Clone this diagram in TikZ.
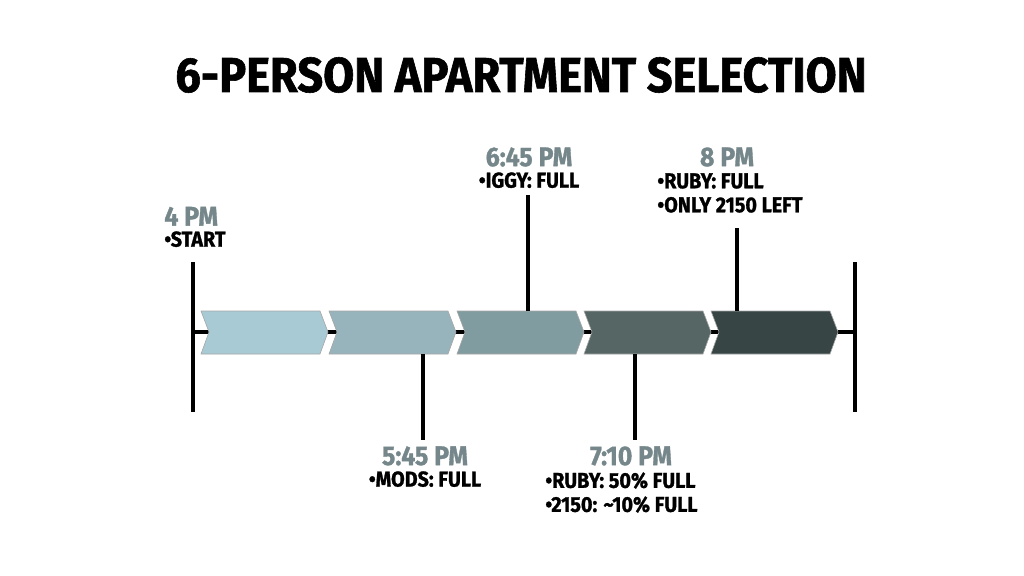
\documentclass[tikz,border=0pt]{standalone}
\usepackage{fontspec}
\setmainfont{Fira Sans}[UprightFont=* Bold, FakeStretch=0.92, FakeBold=1.2]
\usetikzlibrary{positioning}
\definecolor{tgrey}{HTML}{75878A}
\definecolor{cA}{HTML}{A7CAD5}
\definecolor{cB}{HTML}{97B4BC}
\definecolor{cC}{HTML}{819CA0}
\definecolor{cD}{HTML}{556664}
\definecolor{cE}{HTML}{374545}
\tikzset{every picture/.style={line width=0.75pt},
  timelbl/.style={text=tgrey,font=\fontsize{27}{27}\selectfont,inner sep=0pt},
  notelbl/.style={font=\fontsize{21.5}{24}\selectfont,inner sep=0pt,align=left},
  tick/.style={line width=3.5pt},
  chev/.style={draw=gray!70,line width=0.6pt}}
\begin{document}
\begin{tikzpicture}[x=1pt,y=1pt,yscale=-1]
\useasboundingbox (0,0) rectangle (1024,575);

% title
\node (title) at (521,75) {\fontsize{49}{49}\selectfont 6-PERSON APARTMENT SELECTION};

% axis
\coordinate (ax0) at (193,332);
\coordinate (ax1) at (855,332);
\draw[tick] (ax0) -- (ax1);
\draw[tick] (193,262) -- (193,412);
\draw[tick] (855,262) -- (855,412);

% chevrons
\foreach \x/\c in {201/cA,329/cB,457/cC,584/cD,711/cE}{
  \draw[chev,fill=\c] (\x,311) -- ++(119,0) -- ++(8,21) -- ++(-8,22) -- ++(-119,0) -- ++(8,-22) -- cycle;
}

% ticks
\draw[tick] (423,354) -- (423,440);
\draw[tick] (528,195) -- (528,311);
\draw[tick] (635,354) -- (635,440);
\draw[tick] (737,228) -- (737,311);

% labels
\node[timelbl,anchor=south west] (t4) at (164,226) {4 PM};
\node[notelbl,below=5pt of t4.south west,anchor=north west] (n4) {•START};

\node[timelbl,anchor=north] (t545) at (425,446) {5:45 PM};
\node[notelbl,below=5pt of t545] (n545) {•MODS: FULL};

\node[timelbl,anchor=south] (t645) at (529,167) {6:45 PM};
\node[notelbl,below=5pt of t645] (n645) {•IGGY: FULL};

\node[timelbl,anchor=north] (t710) at (631,446) {7:10 PM};
\node[notelbl,anchor=north west] (n710) at (545,472) {•RUBY: 50\% FULL\\•2150: \textasciitilde10\% FULL};

\node[timelbl,anchor=south] (t8) at (727,167) {8 PM};
\node[notelbl,anchor=north west] (n8) at (657,173) {•RUBY: FULL\\•ONLY 2150 LEFT};
\end{tikzpicture}
\end{document}
